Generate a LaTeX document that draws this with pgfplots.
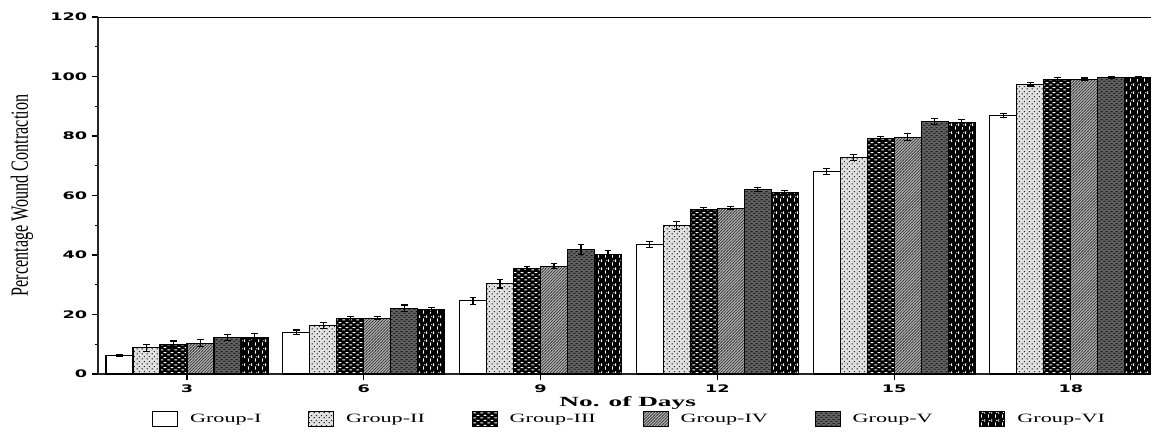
\documentclass[border=0pt]{standalone}
\usepackage{pgfplots}
\pgfplotsset{compat=1.18}
\usepackage{pgfplotstable}
\usepackage{fontspec}
\usetikzlibrary{patterns,patterns.meta}
\setmainfont{Liberation Serif}
\newfontfamily\tickfont{DejaVu Sans}

\pgfdeclarepattern{name=hbrick,type=uncolored,
  bottom left={\pgfpoint{0pt}{0pt}},top right={\pgfpoint{5pt}{3.6pt}},
  tile size={\pgfpoint{5pt}{3.6pt}},
  code={\pgfpathrectangle{\pgfpoint{0.3pt}{0.5pt}}{\pgfpoint{2.2pt}{0.75pt}}
        \pgfpathrectangle{\pgfpoint{2.8pt}{2.3pt}}{\pgfpoint{2.2pt}{0.75pt}}
        \pgfusepath{fill}}}
\pgfdeclarepattern{name=vdash,type=uncolored,
  bottom left={\pgfpoint{0pt}{0pt}},top right={\pgfpoint{5pt}{6pt}},
  tile size={\pgfpoint{5pt}{6pt}},
  code={\pgfpathrectangle{\pgfpoint{0.8pt}{0.4pt}}{\pgfpoint{0.7pt}{2.6pt}}
        \pgfpathrectangle{\pgfpoint{3.3pt}{3.4pt}}{\pgfpoint{0.7pt}{2.2pt}}
        \pgfpathrectangle{\pgfpoint{1.5pt}{4.2pt}}{\pgfpoint{1.2pt}{0.6pt}}
        \pgfusepath{fill}}}
\pgfdeclarepattern{name=smalldots,type=uncolored,
  bottom left={\pgfpoint{0pt}{0pt}},top right={\pgfpoint{3.4pt}{3.4pt}},
  tile size={\pgfpoint{3.4pt}{3.4pt}},
  code={\pgfpathrectangle{\pgfpoint{0.6pt}{0.6pt}}{\pgfpoint{1.0pt}{0.8pt}}
        \pgfpathrectangle{\pgfpoint{2.3pt}{2.3pt}}{\pgfpoint{1.0pt}{0.8pt}}
        \pgfusepath{fill}}}
\pgfdeclarepattern{name=diag,type=uncolored,
  bottom left={\pgfpoint{-0.5pt}{-0.5pt}},top right={\pgfpoint{2.5pt}{2.5pt}},
  tile size={\pgfpoint{2.2pt}{2.2pt}},
  code={\pgfsetlinewidth{0.5pt}\pgfpathmoveto{\pgfpoint{-0.5pt}{-0.5pt}}
        \pgfpathlineto{\pgfpoint{2.7pt}{2.7pt}}\pgfusepath{stroke}}}
\pgfdeclarepattern{name=darktex,type=uncolored,
  bottom left={\pgfpoint{0pt}{0pt}},top right={\pgfpoint{4pt}{3pt}},
  tile size={\pgfpoint{4pt}{3pt}},
  code={\pgfpathrectangle{\pgfpoint{0.2pt}{0.3pt}}{\pgfpoint{2pt}{0.8pt}}
        \pgfpathrectangle{\pgfpoint{2.2pt}{1.8pt}}{\pgfpoint{1.6pt}{0.8pt}}
        \pgfusepath{fill}}}

\pgfplotstableread{
x   a    ea   b    eb   c    ec   d    ed   e    ee   f    ef
3   6.3  0.35 8.8  1.1  10.0 1.1  10.4 1.2  12.3 1.1  12.4 1.3
6   14.0 0.8  16.4 1.0  18.5 0.8  18.7 0.5  22.1 1.1  21.7 0.6
9   24.6 1.1  30.4 1.5  35.5 0.6  36.2 0.8  41.9 1.7  40.1 1.3
12  43.6 1.0  50.0 1.3  55.4 0.6  55.7 0.5  62.1 0.7  60.9 0.9
15  68.2 1.0  72.8 1.0  79.1 0.6  79.6 1.1  84.9 1.1  84.4 1.1
18  86.9 0.8  97.4 0.6  99.0 0.7  99.1 0.4  99.8 0.3  99.8 0.3
}\data

\begin{document}
\begin{tikzpicture}
\begin{axis}[name=ax,
  scale only axis, width=789.75pt, height=267.75pt,
  xmin=1.49, xmax=19.36, ymin=0, ymax=120,
  ybar=0pt, bar width=20.25pt,
  axis x line*=bottom, axis y line*=left,
  axis line style={black!85, line width=1.2pt},
  x axis line style={-}, y axis line style={-},
  xtick={3,6,9,12,15,18},
  ytick={0,20,...,120}, minor ytick={10,30,...,110},
  tick align=outside, tick pos=left,
  major tick length=4.5pt, minor tick length=2.5pt,
  every tick/.style={black, line width=0.8pt},
  xticklabel={\scalebox{1.7}[1]{\pgfmathprintnumber[assume math mode=true]{\tick}}},
  yticklabel={\scalebox{1.7}[1]{\pgfmathprintnumber[assume math mode=true]{\tick}}},
  ticklabel style={font=\tickfont\bfseries\fontsize{7.8}{8}\selectfont},
  ylabel={\fontsize{18.5}{19}\selectfont\scalebox{0.655}[1]{Percentage Wound Contraction}},
  ylabel style={at={(axis description cs:-0.0722,0.5)}, anchor=center},
  xlabel={\bfseries\fontsize{10.5}{12}\selectfont\scalebox{1.95}[1]{No. of Days}},
  xlabel style={at={(axis description cs:0.503,-0.081)}, anchor=center},
  legend columns=6,
  legend style={at={(axis description cs:0.505,-0.126)}, anchor=center, draw=none,
    font=\fontsize{9.5}{11}\selectfont, inner sep=0pt,
    /tikz/every odd column/.append style={column sep=7pt},
    /tikz/every even column/.append style={column sep=33pt}},
  legend image code/.code={\draw[#1,draw=black,line width=0.8pt] (0pt,-5.4pt) rectangle (18.75pt,5.4pt);},
  every axis plot/.append style={draw=black, line width=0.8pt},
  error bars/y dir=both, error bars/y explicit,
  error bars/error bar style={black, line width=0.8pt},
  error bars/error mark options={rotate=90, black, mark size=2.6pt, line width=0.8pt},
  clip=false,
]
\addplot[fill=white] table[x=x,y=a,y error=ea]{\data};
\addplot[fill=black!12, postaction={pattern=smalldots, pattern color=black!85}] table[x=x,y=b,y error=eb]{\data};
\addplot[fill=black, postaction={pattern=hbrick, pattern color=white}] table[x=x,y=c,y error=ec]{\data};
\addplot[fill=black!30, postaction={pattern=diag, pattern color=black!75}] table[x=x,y=d,y error=ed]{\data};
\addplot[fill=black!62, postaction={pattern=darktex, pattern color=black!90}] table[x=x,y=e,y error=ee]{\data};
\addplot[fill=black, postaction={pattern=vdash, pattern color=white}] table[x=x,y=f,y error=ef]{\data};
\legend{\scalebox{1.75}[1]{Group-I},\scalebox{1.75}[1]{Group-II},\scalebox{1.75}[1]{Group-III},\scalebox{1.75}[1]{Group-IV},\scalebox{1.75}[1]{Group-V},\scalebox{1.75}[1]{Group-VI}}
\draw[black, line width=0.6pt] (rel axis cs:0,1) -- (rel axis cs:1,1);
\end{axis}
\pgfresetboundingbox
\path ([xshift=-73.5pt,yshift=-44.25pt]ax.south west) rectangle ([yshift=12.75pt]ax.north east);
\end{tikzpicture}
\end{document}
